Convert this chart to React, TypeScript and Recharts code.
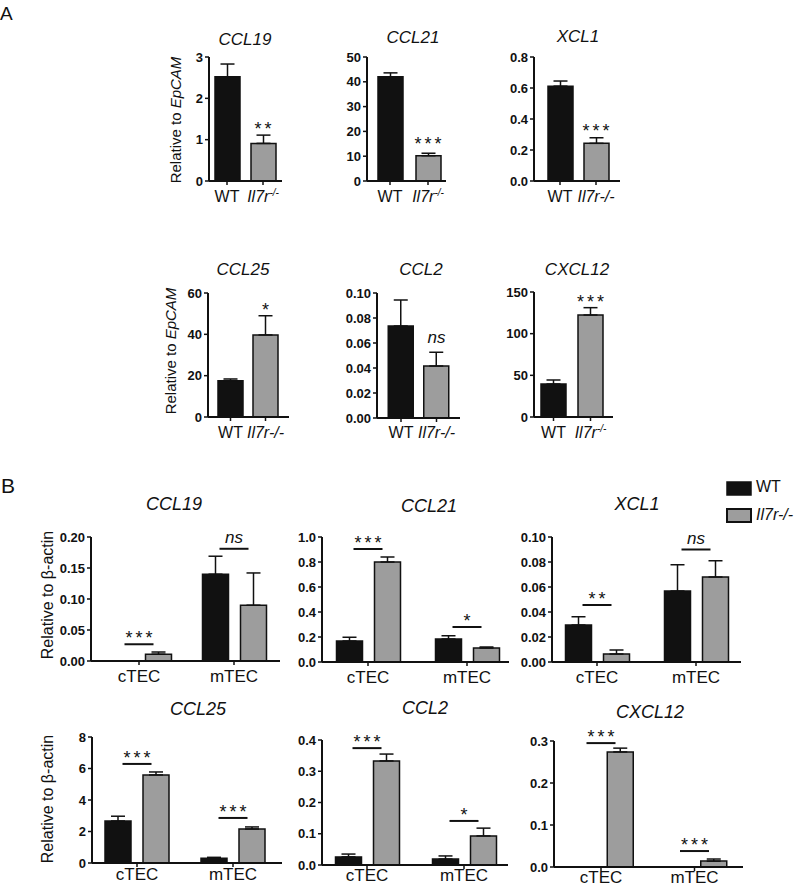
import React from 'react'
import { BarChart, Bar, XAxis, YAxis, ErrorBar, Cell, ReferenceDot } from 'recharts'

const FONT = '"Liberation Sans", Arial, sans-serif'
const INK = '#111111'
const GREY = '#9d9d9d'

// Panel A: WT vs Il7r-/- per gene (relative to EpCAM)
const A_GENES = ['CCL19', 'CCL21', 'XCL1', 'CCL25', 'CCL2', 'CXCL12']
const A_GENOTYPES = ['WT', 'Il7r-/-']
const A_WT = [2.52, 42, 0.612, 17.6, 0.0736, 39.6]
const A_WT_ERR = [0.31, 1.6, 0.033, 0.8, 0.0208, 4.8]
const A_KO = [0.91, 10.2, 0.243, 39.7, 0.0416, 122.4]
const A_KO_ERR = [0.2, 1.0, 0.036, 9.3, 0.011, 8.8]
const A_SIG = ['**', '***', '***', '*', 'ns', '***']
const A_SIG_Y = [1.11, 12.5, 0.284, 48.9, 0.06, 130.8]
const A_TICKS = [
  [0, 1, 2, 3],
  [0, 10, 20, 30, 40, 50],
  [0, 0.2, 0.4, 0.6, 0.8],
  [0, 20, 40, 60],
  [0, 0.02, 0.04, 0.06, 0.08, 0.1],
  [0, 50, 100, 150],
]
const A_DECIMALS = [0, 0, 1, 0, 2, 0]
const A_SUPERSCRIPT = [true, true, false, false, false, true]

// Panel B: cTEC / mTEC, WT vs Il7r-/- (relative to beta-actin)
const B_GENES = ['CCL19', 'CCL21', 'XCL1', 'CCL25', 'CCL2', 'CXCL12']
const B_CELLS = ['cTEC', 'mTEC']
const B_WT_CTEC = [0, 0.168, 0.0296, 2.67, 0.026, 0]
const B_WT_CTEC_ERR = [0, 0.03, 0.0066, 0.3, 0.009, 0]
const B_KO_CTEC = [0.011, 0.8, 0.0064, 5.59, 0.333, 0.274]
const B_KO_CTEC_ERR = [0.0035, 0.04, 0.0032, 0.19, 0.022, 0.009]
const B_WT_MTEC = [0.14, 0.184, 0.0568, 0.3, 0.019, 0]
const B_WT_MTEC_ERR = [0.029, 0.026, 0.021, 0.06, 0.01, 0]
const B_KO_MTEC = [0.09, 0.112, 0.068, 2.16, 0.093, 0.014]
const B_KO_MTEC_ERR = [0.052, 0.008, 0.013, 0.13, 0.025, 0.005]
const B_SIG_CTEC = ['***', '***', '**', '***', '***', '***']
const B_SIG_CTEC_Y = [0.027, 0.904, 0.0456, 6.29, 0.374, 0.295]
const B_SIG_MTEC = ['ns', '*', 'ns', '***', '*', '***']
const B_SIG_MTEC_Y = [0.181, 0.28, 0.09, 2.86, 0.141, 0.038]
const B_TICKS = [
  [0, 0.05, 0.1, 0.15, 0.2],
  [0, 0.2, 0.4, 0.6, 0.8, 1.0],
  [0, 0.02, 0.04, 0.06, 0.08, 0.1],
  [0, 2, 4, 6, 8],
  [0, 0.1, 0.2, 0.3, 0.4],
  [0, 0.1, 0.2, 0.3],
]
const B_DECIMALS = [2, 1, 2, 0, 1, 1]

// plot boxes: y-axis x, top tick y, zero y, x-axis end, category centres, label drop
const A_BOX = [
  [209, 57, 181, 282, 227, 263, 21],
  [367, 57, 181, 446, 390, 428, 21],
  [534, 57, 181, 620, 560, 596, 21],
  [208, 293, 417, 289, 230.5, 265.5, 21],
  [377, 293, 418, 460, 401, 436.5, 20],
  [534, 292, 417, 613, 553.5, 590.5, 21],
]
const B_BOX = [
  [91, 537, 661, 280, 139, 234, 21],
  [322, 537, 662, 509, 368, 467, 21],
  [552, 537, 662, 741, 597, 696, 21],
  [92, 737, 863, 282, 137, 233, 17],
  [322, 740, 865, 508, 367, 464, 16],
  [554, 741, 867, 743, 601, 694.5, 16],
]
const A_TITLE_POS = [[245, 45], [413, 43], [578, 42], [243, 275], [421, 275], [577, 275]]
const B_TITLE_POS = [[174, 510], [429, 512], [637, 510], [198, 715], [425, 714], [650, 718]]

const YW = 45
const MT = 30
const MR = 10
const XH = 30

function frame(box: number[]) {
  const [ax, top, zero, end, c1, c2] = box
  const band = c2 - c1
  return {
    left: ax - YW,
    top: top - MT,
    width: YW + (end - ax) + MR,
    height: MT + (zero - top) + XH,
    padding: { left: c1 - band / 2 - ax, right: end - (c2 + band / 2) },
  }
}

function sigLabel(label: string, cx: number, baseline: number) {
  const ns = label === 'ns'
  return (
    <text
      x={ns ? cx : cx + 1.5}
      y={baseline}
      textAnchor="middle"
      fontFamily={FONT}
      fontSize={ns ? 17 : 18}
      fontStyle={ns ? 'italic' : 'normal'}
      letterSpacing={ns ? 0 : 3}
      fill={INK}
    >
      {label}
    </text>
  )
}

function GenotypeTick(props: any) {
  const { x, y, payload, sup, drop } = props
  const base = y - 6 + drop
  if (payload.value === 'WT') {
    return (
      <text x={x} y={base} textAnchor="middle" fontFamily={FONT} fontSize={16} fill={INK}>
        WT
      </text>
    )
  }
  return (
    <text x={x} y={base} textAnchor="middle" fontFamily={FONT} fontSize={16} fontStyle="italic" fill={INK}>
      Il7r
      {sup ? (
        <tspan dy={-6} fontSize={10}>
          -/-
        </tspan>
      ) : (
        '-/-'
      )}
    </text>
  )
}

function CellTick(props: any) {
  const { x, y, payload, drop } = props
  return (
    <text x={x} y={y - 6 + drop} textAnchor="middle" fontFamily={FONT} fontSize={17} fill={INK}>
      {payload.value}
    </text>
  )
}

const axisLine = { stroke: INK, strokeWidth: 2 }
const tickLine = { stroke: INK, strokeWidth: 1.5 }
const yTick = { fontSize: 13, fontWeight: 700, fill: INK, fontFamily: FONT }

function PanelAChart({ i }: { i: number }) {
  const box = A_BOX[i]
  const f = frame(box)
  const ticks = A_TICKS[i]
  const data = [
    { name: A_GENOTYPES[0], value: A_WT[i], err: [0, A_WT_ERR[i]] },
    { name: A_GENOTYPES[1], value: A_KO[i], err: [0, A_KO_ERR[i]] },
  ]
  return (
    <div style={{ position: 'absolute', left: f.left, top: f.top }}>
      <BarChart width={f.width} height={f.height} data={data} margin={{ top: MT, right: MR, bottom: 0, left: 0 }}>
        <XAxis
          dataKey="name"
          interval={0}
          height={XH}
          padding={f.padding}
          axisLine={axisLine}
          tickLine={tickLine}
          tickSize={4}
          tickMargin={2}
          tick={<GenotypeTick sup={A_SUPERSCRIPT[i]} drop={box[6]} />}
        />
        <YAxis
          width={YW}
          domain={[0, ticks[ticks.length - 1]]}
          ticks={ticks}
          interval={0}
          axisLine={axisLine}
          tickLine={tickLine}
          tickSize={4}
          tickMargin={2}
          tick={yTick}
          tickFormatter={(v: number) => v.toFixed(A_DECIMALS[i])}
        />
        <Bar dataKey="value" barSize={25} stroke={INK} strokeWidth={1.5} isAnimationActive={false}>
          {data.map((d, k) => (
            <Cell key={d.name} fill={k === 0 ? INK : GREY} />
          ))}
          <ErrorBar dataKey="err" direction="y" width={7} stroke={INK} strokeWidth={1.5} />
        </Bar>
        <ReferenceDot
          x={A_GENOTYPES[1]}
          y={A_SIG_Y[i]}
          r={0}
          shape={(p: any) => sigLabel(A_SIG[i], p.cx, p.cy)}
        />
      </BarChart>
    </div>
  )
}

function SigBar(label: string, cx: number, cy: number) {
  return (
    <g>
      <line x1={cx - 14.5} x2={cx + 14.5} y1={cy} y2={cy} stroke={INK} strokeWidth={2} />
      {sigLabel(label, cx, label === 'ns' ? cy - 6 : cy)}
    </g>
  )
}

function PanelBChart({ i }: { i: number }) {
  const box = B_BOX[i]
  const f = frame(box)
  const ticks = B_TICKS[i]
  const data = [
    { cell: B_CELLS[0], wt: B_WT_CTEC[i], wtErr: [0, B_WT_CTEC_ERR[i]], ko: B_KO_CTEC[i], koErr: [0, B_KO_CTEC_ERR[i]] },
    { cell: B_CELLS[1], wt: B_WT_MTEC[i], wtErr: [0, B_WT_MTEC_ERR[i]], ko: B_KO_MTEC[i], koErr: [0, B_KO_MTEC_ERR[i]] },
  ]
  return (
    <div style={{ position: 'absolute', left: f.left, top: f.top }}>
      <BarChart
        width={f.width}
        height={f.height}
        data={data}
        barGap={12}
        margin={{ top: MT, right: MR, bottom: 0, left: 0 }}
      >
        <XAxis
          dataKey="cell"
          interval={0}
          height={XH}
          padding={f.padding}
          axisLine={axisLine}
          tickLine={tickLine}
          tickSize={4}
          tickMargin={2}
          tick={<CellTick drop={box[6]} />}
        />
        <YAxis
          width={YW}
          domain={[0, ticks[ticks.length - 1]]}
          ticks={ticks}
          interval={0}
          axisLine={axisLine}
          tickLine={tickLine}
          tickSize={4}
          tickMargin={2}
          tick={yTick}
          tickFormatter={(v: number) => v.toFixed(B_DECIMALS[i])}
        />
        <Bar dataKey="wt" barSize={26} fill={INK} stroke={INK} strokeWidth={1.5} isAnimationActive={false}>
          <ErrorBar dataKey="wtErr" direction="y" width={7} stroke={INK} strokeWidth={1.5} />
        </Bar>
        <Bar dataKey="ko" barSize={26} fill={GREY} stroke={INK} strokeWidth={1.5} isAnimationActive={false}>
          <ErrorBar dataKey="koErr" direction="y" width={7} stroke={INK} strokeWidth={1.5} />
        </Bar>
        <ReferenceDot
          x={B_CELLS[0]}
          y={B_SIG_CTEC_Y[i]}
          r={0}
          shape={(p: any) => SigBar(B_SIG_CTEC[i], p.cx, p.cy)}
        />
        <ReferenceDot
          x={B_CELLS[1]}
          y={B_SIG_MTEC_Y[i]}
          r={0}
          shape={(p: any) => SigBar(B_SIG_MTEC[i], p.cx, p.cy)}
        />
      </BarChart>
    </div>
  )
}

function Overlay() {
  const yLabel = (x: number, y: number, italicPart: string | null, plain: string, size: number) => (
    <text
      transform={`translate(${x},${y}) rotate(-90)`}
      textAnchor="middle"
      dominantBaseline="central"
      fontFamily={FONT}
      fontSize={size}
      fill={INK}
    >
      {plain}
      {italicPart ? <tspan fontStyle="italic">{italicPart}</tspan> : null}
    </text>
  )
  return (
    <svg
      width={800}
      height={886}
      style={{ position: 'absolute', left: 0, top: 0, pointerEvents: 'none' }}
    >
      <text x={0} y={20} fontFamily={FONT} fontSize={19} fill={INK}>
        A
      </text>
      <text x={1} y={493} fontFamily={FONT} fontSize={21} fill={INK}>
        B
      </text>
      {A_GENES.map((g, i) => (
        <text
          key={'a' + g}
          x={A_TITLE_POS[i][0]}
          y={A_TITLE_POS[i][1]}
          textAnchor="middle"
          fontFamily={FONT}
          fontSize={17}
          fontStyle="italic"
          fill={INK}
        >
          {g}
        </text>
      ))}
      {B_GENES.map((g, i) => (
        <text
          key={'b' + g}
          x={B_TITLE_POS[i][0]}
          y={B_TITLE_POS[i][1]}
          textAnchor="middle"
          fontFamily={FONT}
          fontSize={18}
          fontStyle="italic"
          fill={INK}
        >
          {g}
        </text>
      ))}
      {yLabel(175, 120, 'EpCAM', 'Relative to ', 15)}
      {yLabel(170, 351, 'EpCAM', 'Relative to ', 15)}
      {yLabel(47, 595, null, 'Relative to \u03b2-actin', 16)}
      {yLabel(47, 799, null, 'Relative to \u03b2-actin', 16)}
      <rect x={727} y={482} width={24} height={13} fill={INK} stroke={INK} strokeWidth={1.5} />
      <text x={756} y={492} fontFamily={FONT} fontSize={16} fill={INK}>
        WT
      </text>
      <rect x={727} y={509} width={24} height={13} fill={GREY} stroke={INK} strokeWidth={2} />
      <text x={756} y={520} fontFamily={FONT} fontSize={16} fontStyle="italic" fill={INK}>
        Il7r-/-
      </text>
    </svg>
  )
}

export default function App() {
  return (
    <div
      style={{
        position: 'absolute',
        left: 0,
        top: 0,
        width: 800,
        height: 886,
        background: '#fff',
        overflow: 'hidden',
        fontFamily: FONT,
      }}
    >
      {A_GENES.map((g, i) => (
        <PanelAChart key={'A' + g} i={i} />
      ))}
      {B_GENES.map((g, i) => (
        <PanelBChart key={'B' + g} i={i} />
      ))}
      <Overlay />
    </div>
  )
}
